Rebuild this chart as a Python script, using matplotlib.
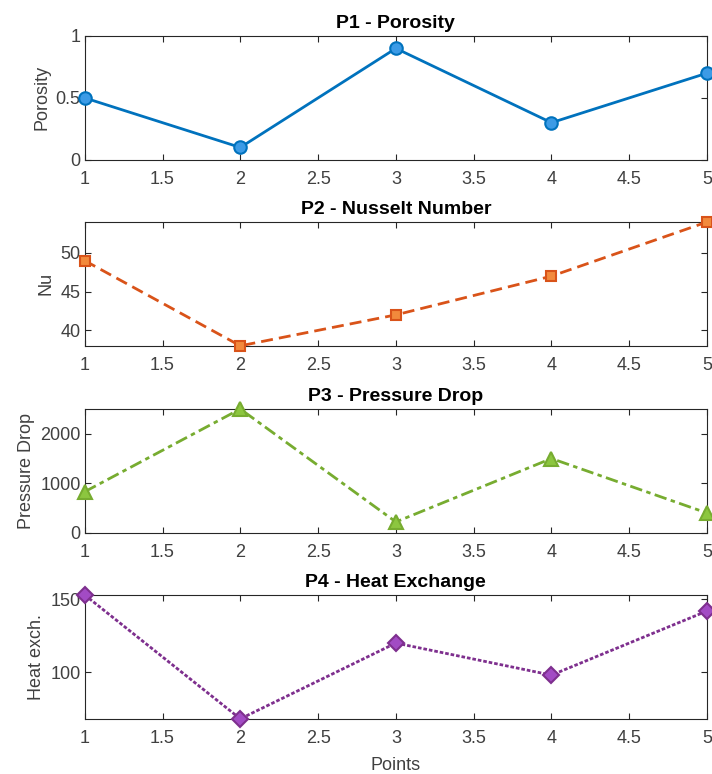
import numpy as np
import matplotlib
matplotlib.use("Agg")
from matplotlib import pyplot as plt

plt.rcParams['font.family'] = ['Liberation Sans', 'DejaVu Sans']

points = [1, 2, 3, 4, 5]
porosity = [0.5, 0.1, 0.9, 0.3, 0.7]
nusselt = [49, 38, 42, 47, 54]
pressure_drop = [830, 2500, 220, 1500, 400]
heat_exch = [153, 68, 120, 98, 142]

titles = ['P1 - Porosity', 'P2 - Nusselt Number', 'P3 - Pressure Drop', 'P4 - Heat Exchange']
ylabels = ['Porosity', 'Nu', 'Pressure Drop', 'Heat exch.']
xticks = [1, 1.5, 2, 2.5, 3, 3.5, 4, 4.5, 5]
xticklabels = ['1', '1.5', '2', '2.5', '3', '3.5', '4', '4.5', '5']

# line color, marker face, line style, marker, marker size
styles = [
    ('#0072BD', '#3C9BE6', '-', 'o', 9),
    ('#D95319', '#F28A3C', (0, (4.3, 2.2)), 's', 7),
    ('#77AC30', '#8CC63F', (0, (4.5, 1.6, 1.6, 1.6)), '^', 10),
    ('#7E2F8E', '#A24BC4', (0, (1.3, 0.7)), 'D', 8),
]
ylims = [(0, 1), (38, 54), (0, 2500), (68, 153)]
yticks = [[0, 0.5, 1], [40, 45, 50], [0, 1000, 2000], [100, 150]]
yticklabels = [['0', '0.5', '1'], ['40', '45', '50'], ['0', '1000', '2000'], ['100', '150']]
series = [porosity, nusselt, pressure_drop, heat_exch]

fig = plt.figure(figsize=(7.12, 7.74), dpi=100)
tops = [0.9535, 0.7132, 0.4716, 0.2313]
height = 0.160

for i in range(4):
    ax = fig.add_axes([0.119, tops[i] - height, 0.874, height])
    lc, fc, ls, mk, ms = styles[i]
    ax.plot(points, series[i], linestyle=ls, color=lc, linewidth=2,
            marker=mk, markersize=ms, markerfacecolor=fc, markeredgecolor=lc,
            markeredgewidth=1.5, clip_on=False, zorder=3)
    ax.set_xlim(1, 5)
    ax.set_ylim(*ylims[i])
    ax.set_xticks(xticks)
    ax.set_xticklabels(xticklabels)
    ax.set_yticks(yticks[i])
    ax.set_yticklabels(yticklabels[i])
    ax.tick_params(direction='in', top=True, right=True, length=4, width=0.8,
                   colors='#262626', labelsize=13)
    ax.tick_params(axis='x', pad=8, labelcolor='#404040')
    ax.tick_params(axis='y', pad=3, labelcolor='#404040')
    for s in ax.spines.values():
        s.set_color('#262626')
        s.set_linewidth(0.8)
    ax.set_title(titles[i], fontsize=14, fontweight='bold', color='black', pad=6)
    ax.set_ylabel(ylabels[i], fontsize=13, color='#404040', labelpad=4)

ax.set_xlabel('Points', fontsize=13, color='#404040', labelpad=7)

fig.savefig('out.png', dpi=100)
